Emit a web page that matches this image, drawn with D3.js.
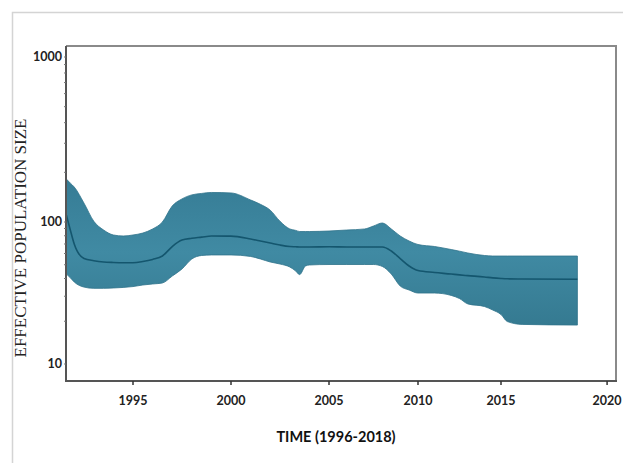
<!DOCTYPE html>
<html>
<head>
<meta charset="utf-8">
<script src="https://cdn.jsdelivr.net/npm/d3@7"></script>
<style>
  body { margin: 0; background: #fff; }
  svg { display: block; }
</style>
</head>
<body>
<svg id="chart"></svg>
<script>
// values
const years = [1991.6, 1991.8, 1992, 1992.5, 1993, 1993.5, 1994, 1994.5, 1995, 1995.5, 1996, 1996.5,
  1997, 1997.5, 1998, 1998.5, 1999, 2000, 2001, 2001.5, 2002, 2002.5, 2003, 2003.3, 2003.5, 2003.8,
  2004, 2005, 2006, 2007, 2007.5, 2008, 2008.5, 2009, 2009.5, 2010, 2011, 2012, 2012.5, 2013,
  2014, 2014.5, 2015, 2015.3, 2016, 2018.6];
const upper = [182, 172, 163, 130, 101, 87.8, 81, 79.7, 81, 83.6, 89.3, 100,
  125, 138, 146, 149, 151, 150, 136, 128, 118, 101, 89.3, 87.3, 85.7, 85.7,
  85.7, 86.4, 87.8, 89.3, 93.7, 98.4, 89.3, 79.7, 73.5, 69.4, 67.2, 64, 62.3, 60.5,
  58.1, 57.6, 57.6, 57.6, 57.6, 57.6];
const lower = [43, 40.5, 37.8, 34.8, 34.1, 34.1, 34.3, 34.6, 35.1, 36, 36.6, 37.2,
  41.6, 46.7, 54.9, 58.1, 58.6, 58.6, 57.2, 54.9, 52.3, 50.6, 48.2, 45.2, 42.6, 49,
  49.8, 50.2, 50.2, 50.2, 50.2, 48.6, 43, 35.4, 33.2, 31.6, 31.6, 30.4, 28.9, 26.5,
  25.4, 24, 22.3, 19.9, 19, 18.8];
const median = [110, 87.8, 70, 55.3, 53.4, 52.3, 51.9, 51.7, 51.7, 52.7, 54.5, 57.6,
  67.2, 74.7, 76.8, 78.2, 79.7, 79.5, 75.9, 73.5, 71.1, 68.8, 67.2, 66.9, 66.7, 66.7,
  66.7, 66.9, 66.7, 66.7, 66.7, 66.7, 62.5, 55.3, 49, 45.5, 44.1, 43, 42.4, 41.9,
  41, 40.4, 40, 39.8, 39.7, 39.5];

const xTicks = [1995, 2000, 2005, 2010, 2015, 2020];
const yTicks = [10, 100, 1000];
const yMinor = [20, 30, 40, 50, 60, 70, 80, 90, 200, 300, 400, 500, 600, 700, 800, 900];

const width = 623, height = 463;
const m = {left: 66, right: 616, top: 46, bottom: 381};

const svg = d3.select('#chart').attr('width', width).attr('height', height);

// outer frame (light)
svg.append('path')
  .attr('d', `M12.5,${height} V12.5 H${width}`)
  .attr('fill', 'none').attr('stroke', '#d4d4d4').attr('stroke-width', 1.5);

// the scanned axes are not evenly spaced, so the scales are piecewise
const x = d3.scaleLinear()
  .domain([1991.58, 1995, 2000, 2005, 2010, 2015, 2020.42])
  .range([m.left, 133, 231, 329, 418, 501, m.right]);
const y = d3.scaleLog()
  .domain([7.47, 10, 100, 1000, 1166])
  .range([m.bottom, 364, 222, 57, m.top]);

const rows = years.map((yr, i) => ({yr, lo: lower[i], hi: upper[i], md: median[i]}));

// band
const area = d3.area()
  .x(d => x(d.yr))
  .y0(d => y(d.lo))
  .y1(d => y(d.hi))
  .curve(d3.curveMonotoneX);

const grad = svg.append('defs').append('linearGradient')
  .attr('id', 'bandFill').attr('x1', 0).attr('x2', 0).attr('y1', 0).attr('y2', 1);
grad.append('stop').attr('offset', '0%').attr('stop-color', '#367c95');
grad.append('stop').attr('offset', '50%').attr('stop-color', '#408aa3');
grad.append('stop').attr('offset', '100%').attr('stop-color', '#357a91');

svg.append('path')
  .datum(rows)
  .attr('d', area)
  .attr('fill', 'url(#bandFill)')
  .attr('stroke', '#2f728a')
  .attr('stroke-width', 0.8);

// median line
svg.append('path')
  .datum(rows)
  .attr('d', d3.line().x(d => x(d.yr)).y(d => y(d.md)).curve(d3.curveMonotoneX))
  .attr('fill', 'none')
  .attr('stroke', '#14566e')
  .attr('stroke-width', 1.6);

// plot frame top + right
svg.append('path')
  .attr('d', `M${m.left},${m.top} H${m.right} V${m.bottom}`)
  .attr('fill', 'none').attr('stroke', '#8a8a8a').attr('stroke-width', 2);

// y axis
const yAxis = svg.append('g').attr('transform', `translate(${m.left},0)`);
yAxis.append('line')
  .attr('x1', 0).attr('x2', 0).attr('y1', m.top).attr('y2', m.bottom + 1)
  .attr('stroke', '#555').attr('stroke-width', 2);
yAxis.selectAll('.minor')
  .data(yMinor.concat(yTicks))
  .join('line')
  .attr('x1', -2).attr('x2', 0)
  .attr('y1', d => y(d)).attr('y2', d => y(d))
  .attr('stroke', '#777').attr('stroke-width', 1);
yAxis.selectAll('text')
  .data(yTicks)
  .join('text')
  .attr('x', -4)
  .attr('y', d => y(d))
  .attr('dy', '0.35em')
  .attr('text-anchor', 'end')
  .attr('font-family', 'Lato, "Open Sans", sans-serif')
  .attr('font-weight', 'bold')
  .attr('font-size', 12.5)
  .attr('fill', '#222')
  .text(d => d);

// x axis
const xAxis = svg.append('g').attr('transform', `translate(0,${m.bottom})`);
xAxis.append('line')
  .attr('x1', m.left - 1).attr('x2', m.right + 1).attr('y1', 0).attr('y2', 0)
  .attr('stroke', '#555').attr('stroke-width', 2);
xAxis.selectAll('.tick')
  .data(xTicks)
  .join('line')
  .attr('x1', d => x(d)).attr('x2', d => x(d))
  .attr('y1', 0).attr('y2', 4)
  .attr('stroke', '#333').attr('stroke-width', 1.5);
xAxis.selectAll('text')
  .data(xTicks)
  .join('text')
  .attr('x', d => x(d))
  .attr('y', 24)
  .attr('text-anchor', 'middle')
  .attr('font-family', 'Lato, "Open Sans", sans-serif')
  .attr('font-weight', 'bold')
  .attr('font-size', 12.5)
  .attr('fill', '#222')
  .text(d => d);

// titles
svg.append('text')
  .attr('x', 336).attr('y', 442)
  .attr('text-anchor', 'middle')
  .attr('font-family', 'Lato, "Open Sans", sans-serif')
  .attr('font-weight', 'bold')
  .attr('font-size', 14.5)
  .attr('fill', '#111')
  .text('TIME (1996-2018)');

svg.append('text')
  .attr('transform', 'translate(26,238) rotate(-90)')
  .attr('text-anchor', 'middle')
  .attr('font-family', '"Liberation Serif", "DejaVu Serif", serif')
  .attr('font-size', 17)
  .attr('fill', '#222')
  .text('EFFECTIVE POPULATION SIZE');
</script>
</body>
</html>
